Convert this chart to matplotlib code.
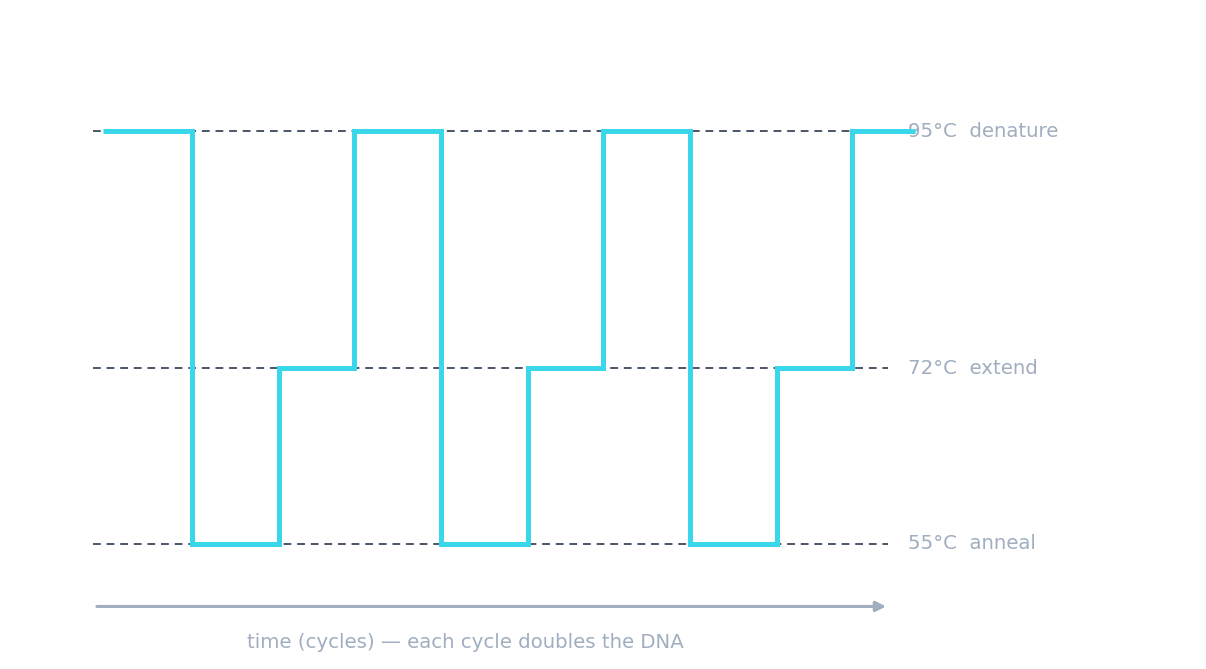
import matplotlib
matplotlib.use("Agg")
import matplotlib.pyplot as plt

# step times (cycle units) and the temperature held from each one
times = [0, 1.02, 2.02, 2.88, 3.88, 4.88, 5.75, 6.75, 7.75, 8.61, 9.33]
temps = [95, 55, 72, 95, 55, 72, 95, 55, 72, 95, 95]

levels = [95, 72, 55]
level_labels = ["95°C  denature", "72°C  extend", "55°C  anneal"]
axis_label = "time (cycles) — each cycle doubles the DNA"

CYAN = "#3ad6ea"
DASH = "#4a5568"
MUTED = "#a0aec0"

fig = plt.figure(figsize=(12.06, 6.69), dpi=100)
ax = fig.add_axes([0, 0, 1, 1])
ax.set_xlim(-1.184, 12.678)
ax.set_ylim(42.89, 107.69)
ax.axis("off")

# reference levels
for lev, lab in zip(levels, level_labels):
    ax.hlines(lev, -0.115, 9.023, colors=DASH, linewidth=1.4,
              linestyles=(0, (4, 3)), zorder=1)
    ax.text(9.253, lev, lab, color=MUTED, fontsize=14.2,
            va="center", ha="left", zorder=2)

# thermal cycle profile
ax.plot(times, temps, drawstyle="steps-post", color=CYAN, linewidth=3.6,
        solid_joinstyle="miter", solid_capstyle="butt", zorder=3)

# time arrow
ax.annotate("", xy=(9.0, 48.95), xytext=(-0.07, 48.95),
            arrowprops=dict(arrowstyle="-|>,head_length=0.6,head_width=0.3",
                            color=MUTED, linewidth=2.2, capstyle="round",
                            shrinkA=0, shrinkB=0))
ax.text(4.17, 45.5, axis_label, color=MUTED, fontsize=14.2,
        ha="center", va="center")

fig.savefig("out.png", dpi=100)
